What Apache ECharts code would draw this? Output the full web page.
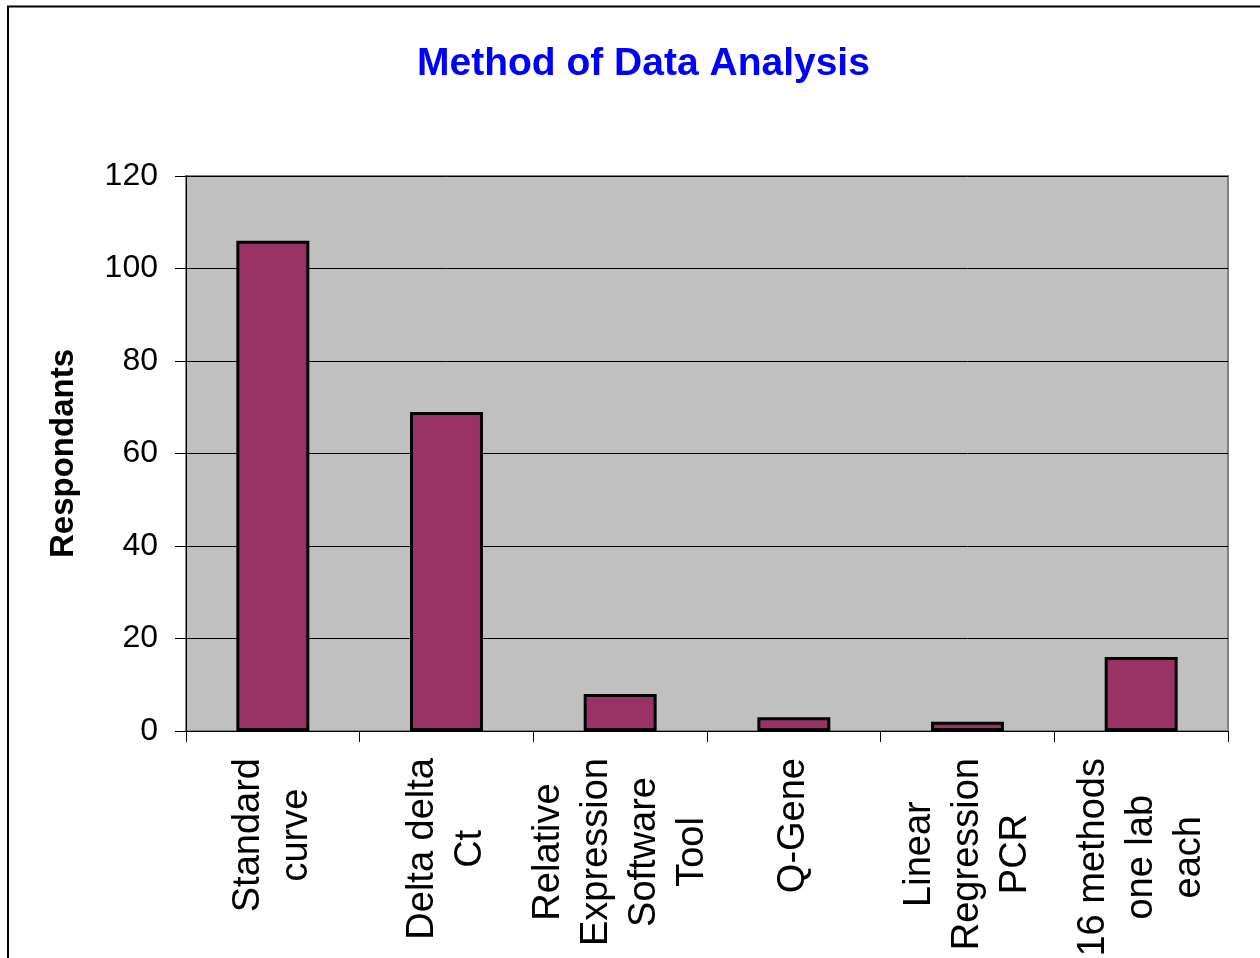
<!DOCTYPE html>
<html>
<head>
<meta charset="utf-8">
<script src="https://cdn.jsdelivr.net/npm/echarts@6/dist/echarts.min.js"></script>
<style>
html,body{margin:0;padding:0;background:#fff;}
#chart{width:1260px;height:958px;}
</style>
</head>
<body>
<div id="chart"></div>
<script>
var categories = ["Standard\ncurve", "Delta delta\nCt", "Relative\nExpression\nSoftware\nTool", "Q-Gene", "Linear\nRegression\nPCR", "16 methods\none lab\neach"];
var respondents = [106, 69, 8, 3, 2, 16];
var yTicks = [0, 20, 40, 60, 80, 100, 120];

var FONT = "'Liberation Sans', Arial, sans-serif";
var chart = echarts.init(document.getElementById('chart'), null, {renderer: 'canvas'});
chart.setOption({
  backgroundColor: '#ffffff',
  animation: false,
  graphic: [{
    type: 'rect',
    shape: {x: 8, y: 6.5, width: 1300, height: 1000},
    style: {fill: 'none', stroke: '#000', lineWidth: 2},
    z: -1
  }],
  title: {
    text: 'Method of Data Analysis',
    left: 412,
    top: 40,
    textStyle: {color: '#0000FF', fontFamily: FONT, fontWeight: 'bold', fontSize: 39}
  },
  grid: {
    left: 186, right: 32, top: 176, bottom: 227,
    show: true, backgroundColor: '#C0C0C0', borderColor: '#808080', borderWidth: 2,
    containLabel: false,
    outerBoundsMode: 'none'
  },
  xAxis: {
    type: 'category',
    data: categories,
    axisLine: {lineStyle: {color: '#000', width: 1}},
    axisTick: {show: true, length: 11, alignWithLabel: false, lineStyle: {color: '#000'}},
    axisLabel: {
      rotate: 90, margin: 27, interval: 0,
      fontFamily: FONT, fontSize: 38, color: '#000', lineHeight: 48,
      formatter: function (v) { return v.split('\n').map(function (s) { return '{c|' + s + '}'; }).join('\n'); },
      rich: {c: {align: 'center', fontFamily: FONT, fontSize: 38, lineHeight: 48, color: '#000'}}
    }
  },
  yAxis: {
    type: 'value',
    min: yTicks[0], max: yTicks[yTicks.length - 1], interval: 20,
    name: 'Respondants',
    nameLocation: 'middle',
    nameRotate: 90,
    nameGap: 106,
    nameTextStyle: {fontFamily: FONT, fontWeight: 'bold', fontSize: 33, color: '#000'},
    axisLine: {show: true, lineStyle: {color: '#000', width: 1}},
    axisTick: {show: true, length: 11, lineStyle: {color: '#000'}},
    axisLabel: {margin: 28, fontFamily: FONT, fontSize: 32, color: '#000'},
    splitLine: {show: true, lineStyle: {color: '#000', width: 1}}
  },
  series: [{
    type: 'bar',
    data: respondents,
    barWidth: '42%',
    itemStyle: {color: '#993366', borderColor: '#000', borderWidth: 3}
  }]
});
</script>
</body>
</html>
